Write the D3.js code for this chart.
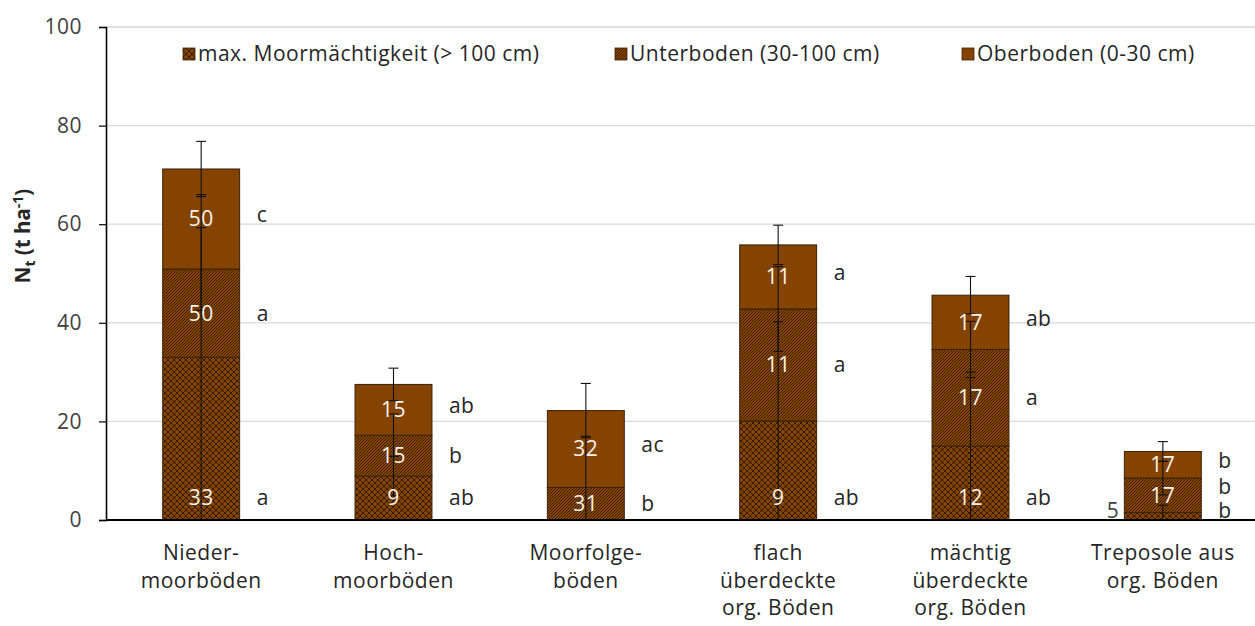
<!DOCTYPE html>
<html><head><meta charset="utf-8">
<script src="https://cdn.jsdelivr.net/npm/d3@7"></script>
<style>
body{margin:0;background:#fff;}
text{font-family:"Open Sans",sans-serif;}
</style></head><body>
<svg id="chart" width="1255" height="626"></svg>
<script>
// Nitrogen stocks by soil group, stacked by depth layer
const categories = [
  ["Nieder-", "moorböden"],
  ["Hoch-", "moorböden"],
  ["Moorfolge-", "böden"],
  ["flach", "überdeckte", "org. Böden"],
  ["mächtig", "überdeckte", "org. Böden"],
  ["Treposole aus", "org. Böden"]
];
const seriesNames = ["max. Moormächtigkeit (> 100 cm)", "Unterboden (30-100 cm)", "Oberboden (0-30 cm)"];

// layer amounts (t ha-1), bottom to top
const maxMoor = [33.0, 8.9, 0, 20.1, 15.0, 1.5];
const unter   = [17.9, 8.3, 6.6, 22.7, 19.6, 7.0];
const ober    = [20.3, 10.3, 15.6, 13.0, 11.0, 5.4];

// error bar half-widths at the cumulative top of each layer
const errMaxMoor = [33.0, 4.0, 0, 20.1, 15.0, 1.5];
const errUnter   = [8.4, 4.3, 10.4, 8.6, 5.7, 3.4];
const errOber    = [5.6, 3.3, 5.5, 4.0, 3.8, 2.0];

// sample sizes printed in the layers
const nMaxMoor = ["33", "9", "", "9", "12", "5"];
const nUnter   = ["50", "15", "31", "11", "17", "17"];
const nOber    = ["50", "15", "32", "11", "17", "17"];

// significance letters beside the layers
const sigMaxMoor = ["a", "ab", "", "ab", "ab", "b"];
const sigUnter   = ["a", "b", "b", "a", "a", "b"];
const sigOber    = ["c", "ab", "ac", "a", "ab", "b"];

const yTicks = [0, 20, 40, 60, 80, 100];

const layers = [
  {name: seriesNames[0], values: maxMoor, err: errMaxMoor, n: nMaxMoor, sig: sigMaxMoor, fill: "url(#cross)"},
  {name: seriesNames[1], values: unter,   err: errUnter,   n: nUnter,   sig: sigUnter,   fill: "url(#diag)"},
  {name: seriesNames[2], values: ober,    err: errOber,    n: nOber,    sig: sigOber,    fill: "#854300"}
];

const svg = d3.select("#chart");
const brown = "#854300", ink = "#2b1600";
const fs = 21, ls = 0.5;

// hatch patterns
const defs = svg.append("defs");
const cross = defs.append("pattern").attr("id", "cross").attr("patternUnits", "userSpaceOnUse")
  .attr("width", 6).attr("height", 6);
cross.append("rect").attr("width", 6).attr("height", 6).attr("fill", brown);
cross.append("path").attr("d", "M0,0L6,6M6,0L0,6").attr("stroke", ink).attr("stroke-width", 0.9);
const diag = defs.append("pattern").attr("id", "diag").attr("patternUnits", "userSpaceOnUse")
  .attr("width", 3).attr("height", 3);
diag.append("rect").attr("width", 3).attr("height", 3).attr("fill", brown);
diag.append("path").attr("d", "M-1,1L1,-1M0,3L3,0M2,4L4,2").attr("stroke", ink).attr("stroke-width", 0.8);

const axisX = 106, plotRight = 1255;
const x = d3.scaleBand().domain(d3.range(categories.length)).range([105, 1259])
  .paddingInner(0.6).paddingOuter(0.3);
const y = d3.scaleLinear().domain([0, 100]).range([520, 27]);

// gridlines
svg.append("g").selectAll("line").data(yTicks.filter(d => d > 0)).join("line")
  .attr("x1", axisX).attr("x2", plotRight).attr("y1", d => y(d)).attr("y2", d => y(d))
  .attr("stroke", "#d9d9d9").attr("stroke-width", 1.3);

// y axis
const yAxis = d3.axisLeft(y).tickValues(yTicks).tickSize(7).tickPadding(17);
const gy = svg.append("g").attr("transform", `translate(${axisX},0)`).call(yAxis);
gy.select(".domain").attr("stroke", "#000").attr("stroke-width", 1.6);
gy.selectAll(".tick line").attr("stroke", "#000").attr("stroke-width", 1.2);
gy.selectAll(".tick text").attr("font-size", fs).attr("fill", "#404040")
  .attr("font-family", "Open Sans").attr("letter-spacing", ls);

// y axis title
const yt = svg.append("text").attr("transform", "translate(30,236) rotate(-90)")
  .attr("text-anchor", "middle").attr("font-size", 20.5).attr("font-weight", "bold").attr("fill", "#262626");
yt.append("tspan").text("N");
yt.append("tspan").attr("font-size", 14).attr("dy", 5).text("t");
yt.append("tspan").attr("dy", -5).text(" (t ha");
yt.append("tspan").attr("font-size", 14).attr("dy", -7).text("-1");
yt.append("tspan").attr("dy", 7).text(")");

// stacked segments
const segs = [];
categories.forEach((c, i) => {
  let cum = 0;
  layers.forEach((L, s) => {
    const v = L.values[i];
    segs.push({i, s, y0: cum, y1: cum + v, v, L});
    cum += v;
  });
});
const visible = segs.filter(d => d.v > 0);

svg.append("g").selectAll("rect").data(visible).join("rect")
  .attr("x", d => x(d.i)).attr("width", x.bandwidth())
  .attr("y", d => y(d.y1)).attr("height", d => y(d.y0) - y(d.y1))
  .attr("fill", d => d.L.fill).attr("stroke", "#3a2208").attr("stroke-width", 1);

// error bars
const eg = svg.append("g").attr("stroke", "#111").attr("stroke-width", 1.1);
segs.filter(d => d.L.err[d.i] > 0).forEach(d => {
  const cx = x(d.i) + x.bandwidth() / 2, e = d.L.err[d.i];
  const hi = d.y1 + e, lo = Math.max(0, d.y1 - e);
  eg.append("line").attr("x1", cx).attr("x2", cx).attr("y1", y(hi)).attr("y2", y(lo));
  eg.append("line").attr("x1", cx - 5).attr("x2", cx + 5).attr("y1", y(hi)).attr("y2", y(hi));
  if (d.y1 - e > 0)
    eg.append("line").attr("x1", cx - 5).attr("x2", cx + 5).attr("y1", y(lo)).attr("y2", y(lo));
});

// label placement: centred in a layer, inside the base for the lowest tall layer
function labelY(d) {
  const lowest = !visible.some(o => o.i === d.i && o.s < d.s);
  const h = y(d.y0) - y(d.y1);
  if (lowest && h < 15) return y(0) - 9;
  if (lowest && h >= 40) return y(0) - 22;
  return (y(d.y0) + y(d.y1)) / 2;
}
function thinBelow(d) {
  const below = visible.filter(o => o.i === d.i && o.s < d.s);
  return below.length && (y(below[below.length - 1].y0) - y(below[below.length - 1].y1)) < 15;
}
function isTop(d) {
  return !visible.some(o => o.i === d.i && o.s > d.s);
}

const lg = svg.append("g").attr("font-size", fs).attr("letter-spacing", ls);
visible.forEach(d => {
  const txt = d.L.n[d.i];
  if (!txt) return;
  const h = y(d.y0) - y(d.y1);
  const cx = x(d.i) + x.bandwidth() / 2;
  if (h < 15) {
    lg.append("text").attr("x", x(d.i) - 5).attr("y", labelY(d)).attr("dy", "0.35em")
      .attr("text-anchor", "end").attr("fill", "#404040").text(txt);
  } else {
    lg.append("text").attr("x", cx).attr("y", labelY(d)).attr("dy", "0.35em")
      .attr("text-anchor", "middle").attr("fill", "#f7f2ea").text(txt);
  }
  const sig = d.L.sig[d.i];
  if (sig) {
    const ly = labelY(d) - (thinBelow(d) ? 9 : 0) - (isTop(d) ? 4 : 0);
    lg.append("text").attr("x", x(d.i) + x.bandwidth() + 17).attr("y", ly).attr("dy", "0.35em")
      .attr("fill", "#262626").text(sig);
  }
});

// x axis
svg.append("line").attr("x1", axisX).attr("x2", plotRight).attr("y1", y(0)).attr("y2", y(0))
  .attr("stroke", "#000").attr("stroke-width", 2);

// category labels
const cg = svg.append("g").attr("font-size", fs).attr("letter-spacing", ls)
  .attr("fill", "#262626").attr("text-anchor", "middle");
categories.forEach((lines, i) => {
  const t = cg.append("text").attr("x", x(i) + x.bandwidth() / 2).attr("y", 560);
  lines.forEach((ln, k) => t.append("tspan").attr("x", x(i) + x.bandwidth() / 2)
    .attr("dy", k === 0 ? 0 : 27.5).text(ln));
});

// legend
const legX = [183, 615, 962];
const leg = svg.append("g");
layers.forEach((L, s) => {
  leg.append("rect").attr("x", legX[s]).attr("y", 48).attr("width", 12).attr("height", 12)
    .attr("fill", L.fill).attr("stroke", "#3a2208").attr("stroke-width", 0.8);
  leg.append("text").attr("x", legX[s] + 15).attr("y", 54).attr("dy", "0.35em")
    .attr("font-size", fs).attr("letter-spacing", ls).attr("fill", "#262626").text(L.name);
});
</script>
</body></html>
